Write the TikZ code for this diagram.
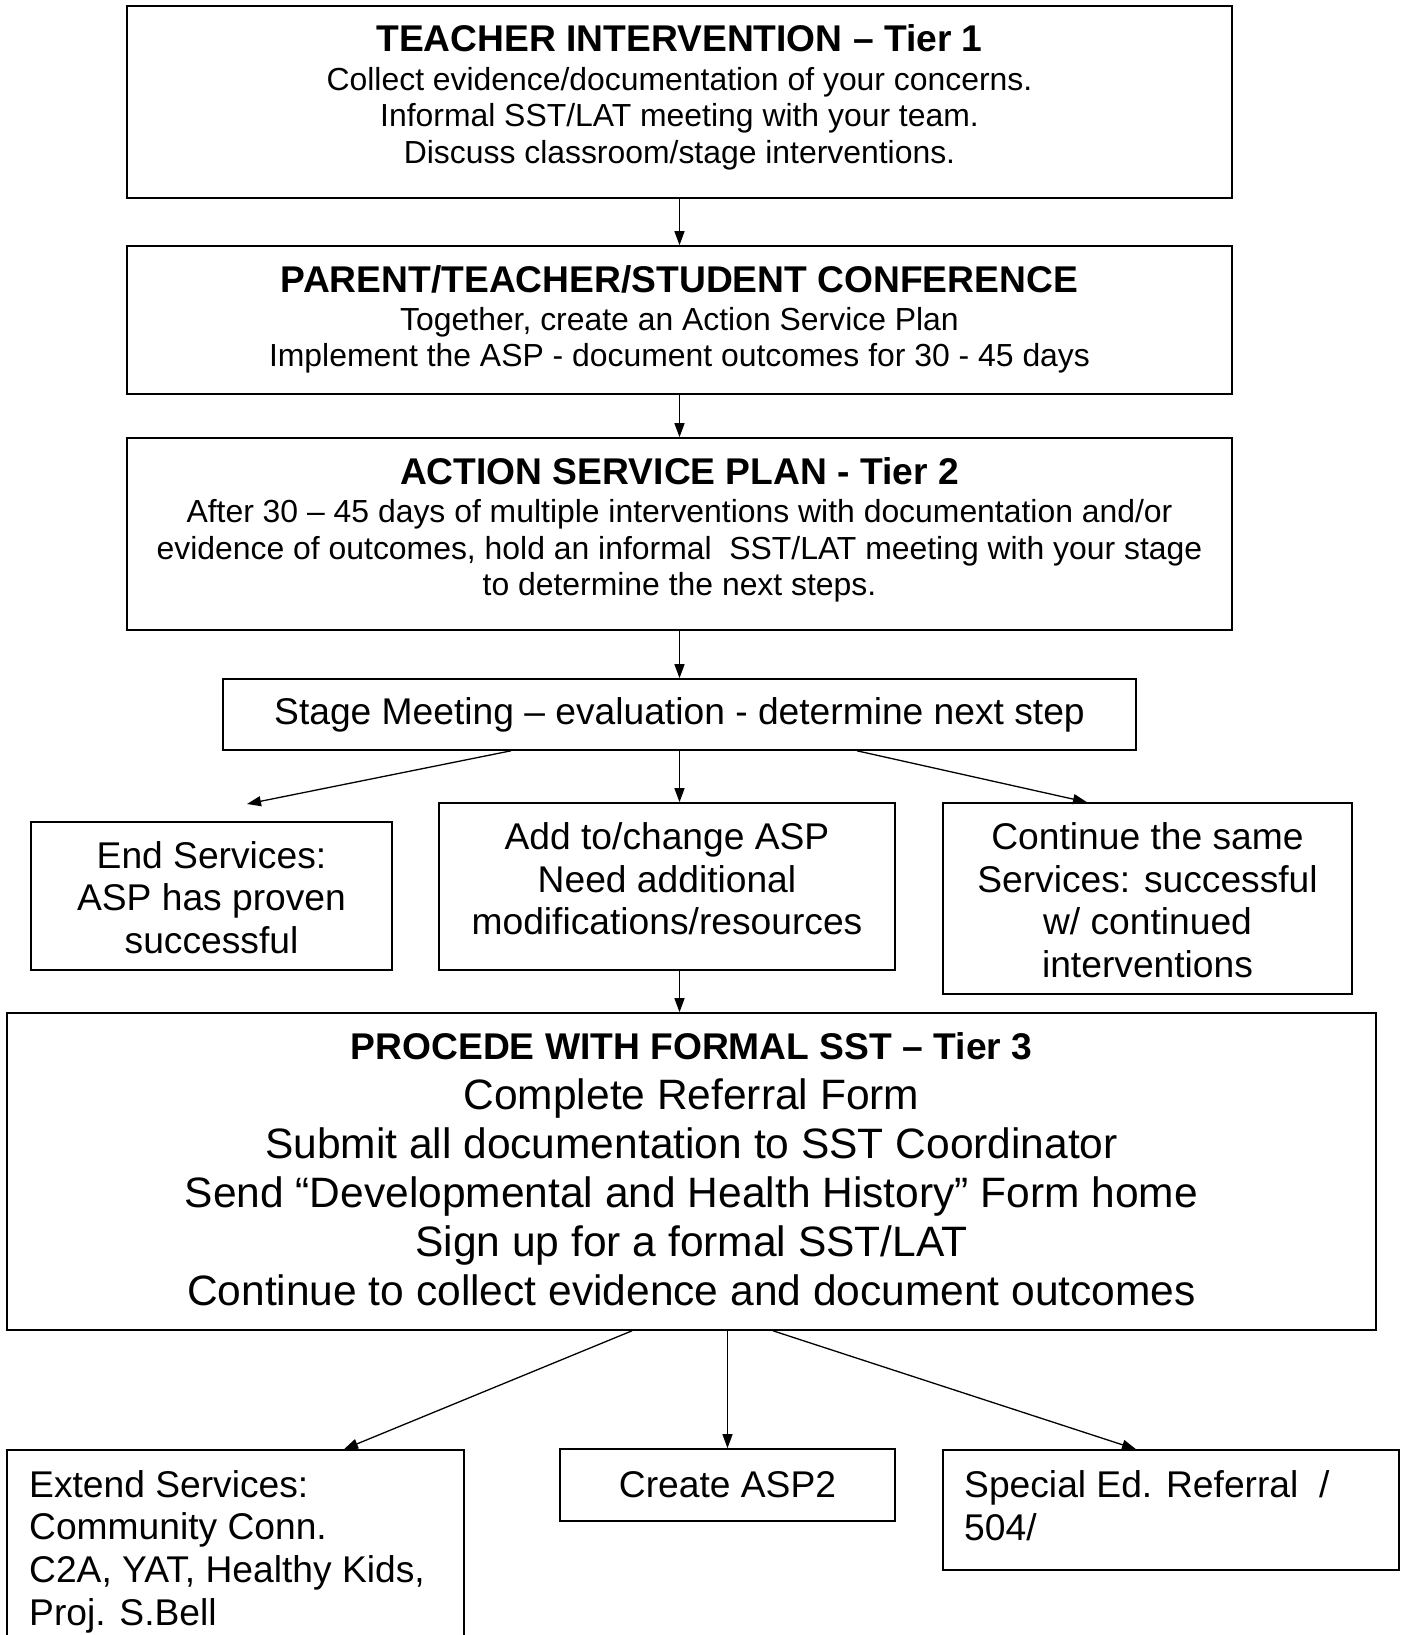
\documentclass[tikz,border=0pt]{standalone}
\usepackage{fontspec}
\setmainfont{Liberation Sans}
\usetikzlibrary{arrows.meta}
\begin{document}
\begin{tikzpicture}[x=1pt,y=-1pt,
  box/.style={draw=black,line width=1.6pt,rectangle,inner sep=0pt,fill=white},
  arr/.style={line width=1.3pt,-{Triangle[length=14pt,width=10pt]}},
  ttl/.style={font=\fontsize{37.2}{42.7}\selectfont\bfseries,inner sep=0pt},
  bdy/.style={font=\fontsize{31.9}{36.6}\selectfont,align=center,inner sep=0pt},
  mid/.style={font=\fontsize{37.2}{42.6}\selectfont,align=center,inner sep=0pt},
  lft/.style={font=\fontsize{37.2}{42.6}\selectfont,align=left,inner sep=0pt,anchor=west},
  big/.style={font=\fontsize{42.5}{48.9}\selectfont,align=center,inner sep=0pt}]
\useasboundingbox (0,0) rectangle (1401,1635);
\fill[white] (0,0) rectangle (1401,1635);
% boxes
\node[box,minimum width=1105pt,minimum height=192pt] (b1) at (679.5,102) {};
\node[box,minimum width=1105pt,minimum height=148pt] (b2) at (679.5,320) {};
\node[box,minimum width=1105pt,minimum height=192pt] (b3) at (679.5,534) {};
\node[box,minimum width=913pt,minimum height=71pt,font=\fontsize{37.2}{42.6}\selectfont] (stage) at (679.5,714.5) {Stage Meeting – evaluation - determine next step};
\node[box,minimum width=361pt,minimum height=148pt] (endb) at (211.5,896) {};
\node[box,minimum width=456pt,minimum height=167pt] (add) at (667,886.5) {};
\node[box,minimum width=409pt,minimum height=191pt] (cont) at (1147.5,898.5) {};
\node[box,minimum width=1369pt,minimum height=317pt] (proc) at (691.5,1171.5) {};
\node[box,minimum width=457pt,minimum height=210pt] (ext) at (235.5,1555) {};
\node[box,minimum width=335pt,minimum height=72pt,font=\fontsize{37.2}{42.6}\selectfont] (create) at (727.5,1485) {Create ASP2};
\node[box,minimum width=456pt,minimum height=120pt] (spec) at (1171,1510) {};
% texts
\node[ttl] (t1) at (679.5,38.5) {TEACHER INTERVENTION – Tier 1};
\node[bdy] (t1b) at (679.5,118.7) {Collect evidence/documentation of your concerns.\\Informal SST/LAT meeting with your team.\\Discuss classroom/stage interventions.};
\node[ttl] (t2) at (679.5,279.4) {PARENT/TEACHER/STUDENT CONFERENCE};
\node[bdy] (t2b) at (679.5,340.3) {Together, create an Action Service Plan\\Implement the ASP - document outcomes for 30 - 45 days};
\node[ttl] (t3) at (679.5,471) {ACTION SERVICE PLAN - Tier 2};
\node[bdy] (t3b) at (679.5,551) {After 30 – 45 days of multiple interventions with documentation and/or\\evidence of outcomes, hold an informal\ \ SST/LAT meeting with your stage\\to determine the next steps.};
\node[mid] (tend) at (211.5,897.5) {End Services:\\ASP has proven\\successful};
\node[mid] (tadd) at (667,879) {Add to/change ASP\\Need additional\\modifications/resources};
\node[mid] (tcont) at (1147.5,900) {Continue the same\\Services: successful\\w/ continued\\interventions};
\node[ttl] (tp) at (691.5,1046) {PROCEDE WITH FORMAL SST – Tier 3};
\node[big] (tpb) at (691.5,1192) {Complete Referral Form\\Submit all documentation to SST Coordinator\\Send “Developmental and Health History” Form home\\Sign up for a formal SST/LAT\\Continue to collect evidence and document outcomes};
\node[lft] (text) at (29,1551.5) {Extend Services:\\Community Conn.\\C2A, YAT, Healthy Kids,\\Proj. S.Bell};
\node[lft] (tspec) at (964,1505.5) {Special Ed. Referral\ \ /\\504/};
% connectors
\coordinate (endtip) at (247,804);
\draw[arr] (b1.south) -- (b2.north);
\draw[arr] (b2.south) -- (b3.north);
\draw[arr] (b3.south) -- (stage.north);
\draw[arr] ([xshift=-168.5pt]stage.south) -- (endtip);
\draw[arr] (stage.south) -- (stage.south |- add.north);
\draw[arr] ([xshift=177.5pt]stage.south) -- ([xshift=-60.5pt]cont.north);
\draw[arr] (add.south -| stage.south) -- (proc.north -| stage.south);
\draw[arr] ([xshift=-59.5pt]proc.south) -- ([xshift=108.5pt]ext.north);
\draw[arr] (proc.south -| create.north) -- (create.north);
\draw[arr] ([xshift=81.5pt]proc.south) -- ([xshift=-35pt]spec.north);
\end{tikzpicture}
\end{document}
